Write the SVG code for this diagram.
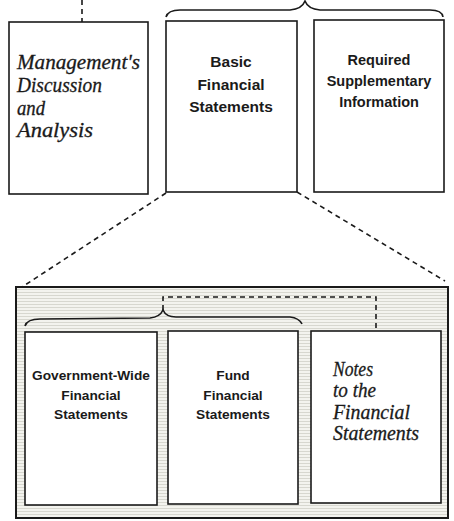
<svg xmlns="http://www.w3.org/2000/svg" width="454" height="521" viewBox="0 0 454 521">
<defs>
<pattern id="hatch" width="6" height="3" patternUnits="userSpaceOnUse">
<rect width="6" height="3" fill="#f3f3ee"/>
<line x1="0" y1="1.5" x2="6" y2="1.5" stroke="#cfcfc6" stroke-width="0.8"/>
</pattern>
</defs>
<style>
.box{fill:#fff;stroke:#1a1a1a;stroke-width:1.6}
.outer{fill:url(#hatch);stroke:#1a1a1a;stroke-width:2}
.brace{fill:none;stroke:#1a1a1a;stroke-width:1.6}
.dash{fill:none;stroke:#1a1a1a;stroke-width:1.6;stroke-dasharray:5 4}
.sans{font-family:"Liberation Sans",Arial,sans-serif;font-weight:bold;fill:#1a1a1a;text-anchor:middle}
.script{font-family:"Liberation Serif","DejaVu Serif",serif;font-style:italic;fill:#1a1a1a;font-size:20px;stroke:#1a1a1a;stroke-width:0.3}
</style>
<rect width="454" height="521" fill="#fff"/>
<g id="outer-panel">
<rect class="outer" x="16" y="287" width="432" height="231"/>
</g>
<g id="connectors">
<line class="dash" x1="82" y1="0" x2="82" y2="22"/>
<line class="dash" x1="166" y1="193" x2="22" y2="287"/>
<line class="dash" x1="297" y1="192" x2="445" y2="281"/>
<polyline class="dash" points="163,310 163,297 376,297 376,331"/>
<path class="brace" d="M166,17 Q168,10 180,10 L290,10 Q302,9 305,1 Q308,9 320,10 L430,10 Q442,10 443,17"/>
<path class="brace" d="M25,326 Q27,319 40,319 L150,318 Q160,317 163,310 Q166,317 176,317 L290,317 Q299,318 302,324"/>
</g>
<g id="mda">
<rect class="box" x="9" y="22" width="139" height="172"/>
<text class="script" x="17" y="69" textLength="123" lengthAdjust="spacingAndGlyphs">Management's</text>
<text class="script" x="17" y="92" textLength="85" lengthAdjust="spacingAndGlyphs">Discussion</text>
<text class="script" x="17" y="115" textLength="28" lengthAdjust="spacingAndGlyphs">and</text>
<text class="script" x="17" y="137" textLength="76" lengthAdjust="spacingAndGlyphs">Analysis</text>
</g>
<g id="basic">
<rect class="box" x="166" y="21" width="131" height="171"/>
<text class="sans" x="231" y="67" font-size="15.5">Basic</text>
<text class="sans" x="231" y="90" font-size="15.5">Financial</text>
<text class="sans" x="231" y="112" font-size="15.5">Statements</text>
</g>
<g id="rsi">
<rect class="box" x="314" y="20" width="130" height="172"/>
<text class="sans" x="379" y="65" font-size="14.5">Required</text>
<text class="sans" x="379" y="86" font-size="14.5">Supplementary</text>
<text class="sans" x="379" y="107" font-size="14.5">Information</text>
</g>
<g id="gov-wide">
<rect class="box" x="25" y="332" width="132" height="173"/>
<text class="sans" x="91" y="380" font-size="13.7">Government-Wide</text>
<text class="sans" x="91" y="400" font-size="13.7">Financial</text>
<text class="sans" x="91" y="419" font-size="13.7">Statements</text>
</g>
<g id="fund">
<rect class="box" x="168" y="331" width="130" height="173"/>
<text class="sans" x="233" y="380" font-size="13.7">Fund</text>
<text class="sans" x="233" y="400" font-size="13.7">Financial</text>
<text class="sans" x="233" y="419" font-size="13.7">Statements</text>
</g>
<g id="notes">
<rect class="box" x="311" y="331" width="130" height="172"/>
<text class="script" x="333" y="376" textLength="40" lengthAdjust="spacingAndGlyphs">Notes</text>
<text class="script" x="333" y="397" textLength="43" lengthAdjust="spacingAndGlyphs">to the</text>
<text class="script" x="333" y="419" textLength="77" lengthAdjust="spacingAndGlyphs">Financial</text>
<text class="script" x="333" y="440" textLength="86" lengthAdjust="spacingAndGlyphs">Statements</text>
</g>
</svg>
